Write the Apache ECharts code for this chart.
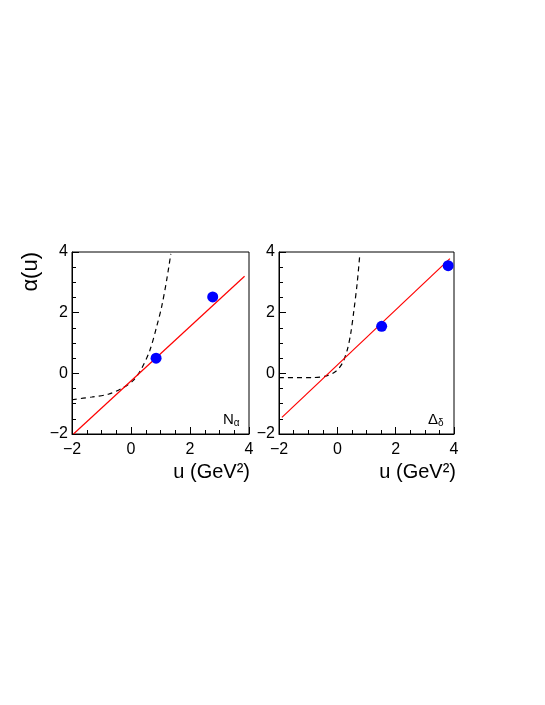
<!DOCTYPE html>
<html>
<head>
<meta charset="utf-8">
<script src="https://cdn.jsdelivr.net/npm/echarts@6/dist/echarts.min.js"></script>
<style>
html,body{margin:0;padding:0;background:#fff;}
#chart{width:545px;height:705px;}
</style>
</head>
<body>
<div id="chart"></div>
<script>
// ----- data -----
const xTicks = [-2, 0, 2, 4];
const yTicks = [-2, 0, 2, 4];

// Left panel (N_alpha)
const leftPoints = [[0.85, 0.5], [2.77, 2.52]];
const leftLine = [[-1.95, -2.0], [3.85, 3.2]];
const leftDashed = [
  [-2.0, -0.87], [-1.33, -0.78], [-0.77, -0.69], [-0.32, -0.50], [0.08, -0.23],
  [0.36, 0.16], [0.64, 0.76], [0.87, 1.54], [1.04, 2.2], [1.21, 3.08], [1.35, 3.94]
];

// Right panel (Delta_delta)
const rightPoints = [[1.52, 1.55], [3.80, 3.55]];
const rightLine = [[-1.9, -1.45], [3.86, 3.78]];
const rightDashed = [
  [-2.0, -0.14], [-0.86, -0.14], [-0.40, -0.09], [-0.06, 0.06], [0.17, 0.33],
  [0.34, 0.77], [0.46, 1.32], [0.57, 2.09], [0.68, 2.97], [0.77, 3.91]
];

const FONT = "'Liberation Sans', Arial, sans-serif";
const fmt = v => String(v).replace('-', '\u2212');

function xAxis(idx) {
  return {
    gridIndex: idx, type: 'value', min: xTicks[0], max: xTicks[xTicks.length - 1], interval: 2,
    axisLine: { show: true, onZero: false, lineStyle: { color: '#000', width: 1 } },
    axisTick: { show: true, inside: true, length: 7, lineStyle: { color: '#000' } },
    minorTick: { show: true, splitNumber: 4, length: 4, lineStyle: { color: '#000' } },
    axisLabel: { color: '#000', fontSize: 16, fontFamily: FONT, margin: 8, formatter: fmt, showMinLabel: true, showMaxLabel: true },
    splitLine: { show: false }
  };
}
function yAxis(idx, name) {
  const ax = {
    gridIndex: idx, type: 'value', min: yTicks[0], max: yTicks[yTicks.length - 1], interval: 2,
    axisLine: { show: true, onZero: false, lineStyle: { color: '#000', width: 1 } },
    axisTick: { show: true, inside: true, length: 7, lineStyle: { color: '#000' } },
    minorTick: { show: true, splitNumber: 4, length: 4, lineStyle: { color: '#000' } },
    axisLabel: { color: '#000', fontSize: 16, fontFamily: FONT, margin: 4, formatter: fmt, showMinLabel: true, showMaxLabel: true },
    splitLine: { show: false }
  };
  if (name) {
    ax.name = name;
    ax.nameLocation = 'end';
    ax.nameRotate = 90;
    ax.nameGap = 0;
    ax.nameTextStyle = { fontSize: 22, fontFamily: FONT, color: '#000', align: 'right', verticalAlign: 'bottom', padding: [0, 0, 30, 0] };
  }
  return ax;
}

function panelSeries(idx, pts, line, dashed) {
  return [
    { type: 'line', xAxisIndex: idx, yAxisIndex: idx, data: dashed, smooth: 0.3, showSymbol: false,
      lineStyle: { color: '#000', width: 1.2, type: [5, 4] }, z: 2 },
    { type: 'line', xAxisIndex: idx, yAxisIndex: idx, data: line, showSymbol: false,
      lineStyle: { color: '#ff0000', width: 1.2 }, z: 3 },
    { type: 'scatter', xAxisIndex: idx, yAxisIndex: idx, data: pts, symbol: 'circle', symbolSize: 11,
      itemStyle: { color: '#0000ff', opacity: 1 }, z: 4 }
  ];
}

const chart = echarts.init(document.getElementById('chart'), null, { renderer: 'canvas' });
chart.setOption({
  animation: false,
  backgroundColor: '#fff',
  grid: [
    { left: 72, top: 252, width: 177, height: 182, show: true, borderColor: '#000', borderWidth: 1, backgroundColor: 'transparent' },
    { left: 279, top: 252, width: 175, height: 182, show: true, borderColor: '#000', borderWidth: 1, backgroundColor: 'transparent' }
  ],
  xAxis: [xAxis(0), xAxis(1)],
  yAxis: [yAxis(0, '\u03B1(u)'), yAxis(1)],
  series: [].concat(
    panelSeries(0, leftPoints, leftLine, leftDashed),
    panelSeries(1, rightPoints, rightLine, rightDashed)
  ),
  graphic: [
    { type: 'text', right: 545 - 250, top: 462,
      style: { text: 'u (GeV\u00B2)', font: '20px ' + FONT, fill: '#000' } },
    { type: 'text', right: 545 - 456, top: 462,
      style: { text: 'u (GeV\u00B2)', font: '20px ' + FONT, fill: '#000' } },
    { type: 'text', left: 223, top: 412,
      style: { text: '{a|N}{b|\u03B1}', rich: { a: { fontSize: 15, fontFamily: FONT, color: '#000' }, b: { fontSize: 10, fontFamily: FONT, color: '#000', padding: [8, 0, 0, 0] } } } },
    { type: 'text', left: 428, top: 412,
      style: { text: '{a|\u0394}{b|\u03B4}', rich: { a: { fontSize: 15, fontFamily: FONT, color: '#000' }, b: { fontSize: 10, fontFamily: FONT, color: '#000', padding: [8, 0, 0, 0] } } } }
  ]
});
</script>
</body>
</html>
